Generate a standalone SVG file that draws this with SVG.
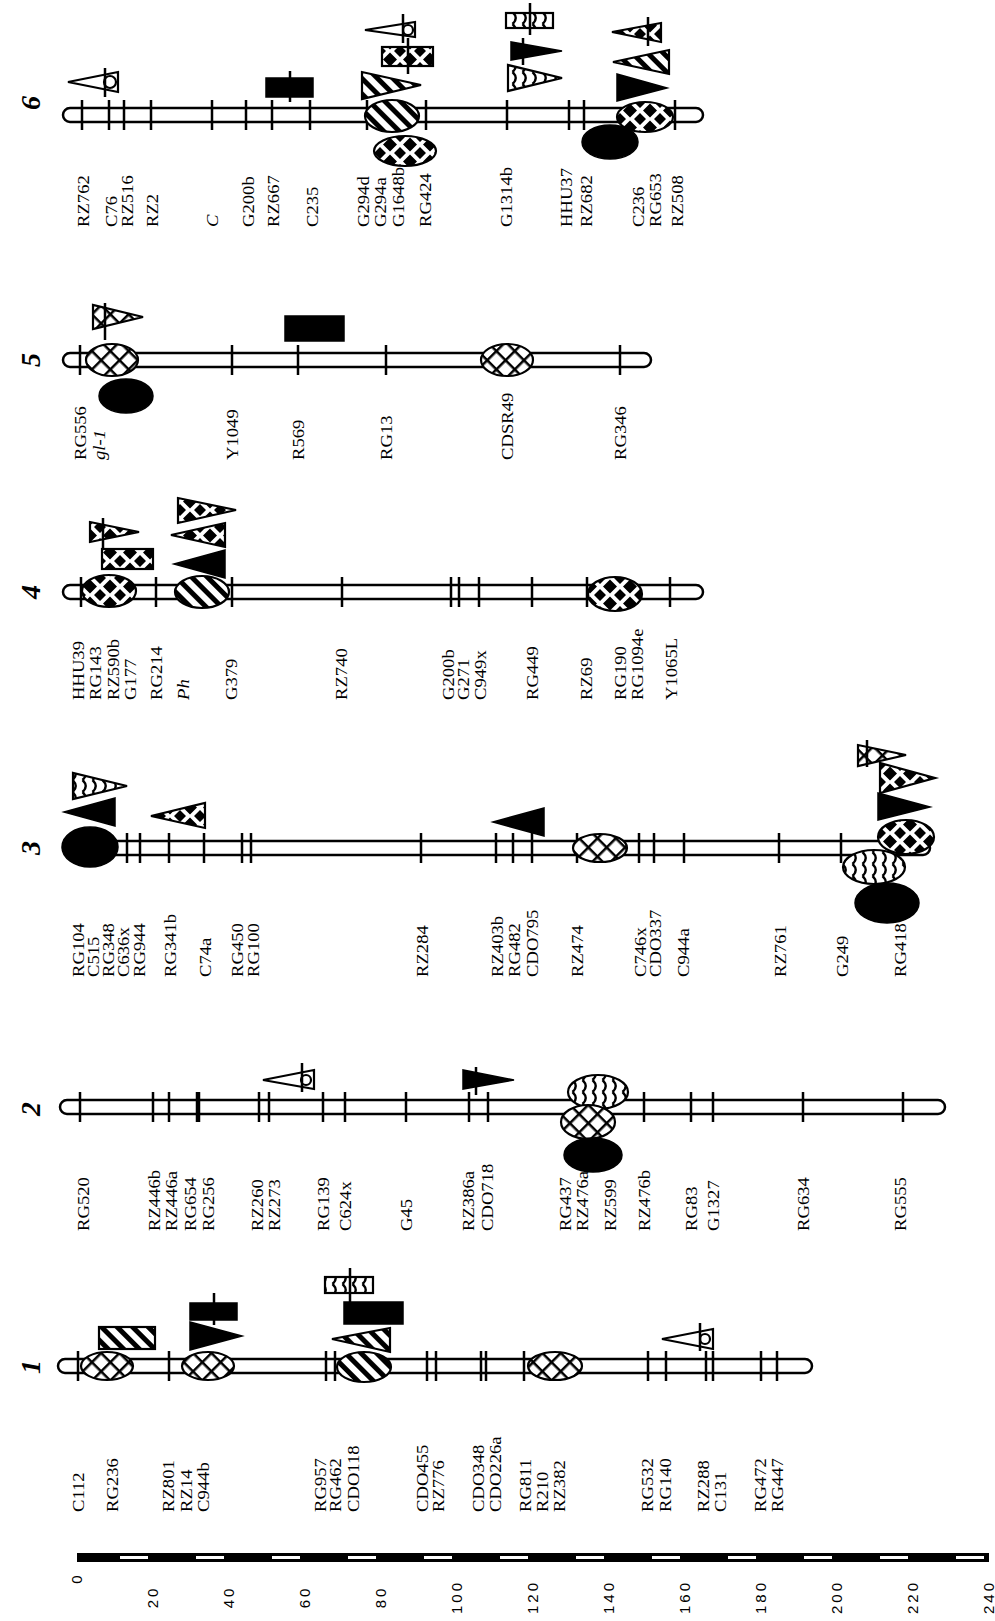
<svg xmlns="http://www.w3.org/2000/svg" width="995" height="1621" viewBox="0 0 995 1621">
<style>
.bar{fill:#fff;stroke:#000;stroke-width:2.5}
.tk{stroke:#000;stroke-width:2.5;fill:none}
.o{stroke:#000;stroke-width:2.2}
.w{fill:#fff;stroke:#000;stroke-width:2.2}
.b{fill:#000;stroke:#000;stroke-width:1.5}
.lb{font-family:"Liberation Serif","Times New Roman",serif;font-size:16.5px;fill:#000}
.it{font-style:italic}
.num{font-family:"Liberation Serif","Times New Roman",serif;font-size:28px;font-weight:bold;font-style:italic;text-anchor:middle}
.sc{font-family:"Liberation Sans",Arial,sans-serif;font-size:15px;letter-spacing:3px;text-anchor:middle}
</style>
<defs>
<pattern id="pX" patternUnits="userSpaceOnUse" width="13" height="13" patternTransform="rotate(45)"><rect width="13" height="13" fill="#fff"/><path d="M0,1.25H13M1.25,0V13" stroke="#000" stroke-width="2.5"/></pattern>
<pattern id="pS" patternUnits="userSpaceOnUse" width="11" height="11" patternTransform="rotate(-45)"><rect width="11" height="11" fill="#fff"/><rect width="5" height="11" fill="#000"/></pattern>
<pattern id="pD" patternUnits="userSpaceOnUse" width="20" height="17"><rect width="20" height="17" fill="#fff"/><path d="M10,1.5L17,8.5L10,15.5L3,8.5ZM0,-6L6,0L0,6L-6,0ZM20,-6L26,0L20,6L14,0ZM0,11L6,17L0,23L-6,17ZM20,11L26,17L20,23L14,17Z" fill="#000"/></pattern>
<pattern id="pW" patternUnits="userSpaceOnUse" width="10" height="12"><rect width="10" height="12" fill="#fff"/><path d="M2.5,0Q9,6 2.5,12" stroke="#000" stroke-width="2.4" fill="none"/></pattern>
</defs>
<rect width="995" height="1621" fill="#fff"/>

<g id="chr6">
<rect class="bar" x="63" y="108" width="640" height="14" rx="7"/>
<path class="tk" d="M82,100V130M109,100V130M124,100V130M151,100V130M212,100V130M246,100V130M272,100V130M310,100V130M367,100V130M426,100V130M507,100V130M569,100V130M584,100V130M675,100V130"/>
<ellipse class="o" cx="392" cy="116" rx="27" ry="16" fill="url(#pS)"/>
<ellipse class="o" cx="405" cy="151" rx="31" ry="15" fill="url(#pD)"/>
<ellipse class="b" cx="610" cy="142" rx="28" ry="17"/>
<ellipse class="o" cx="645" cy="117" rx="28" ry="15" fill="url(#pD)"/>
<polygon class="w" points="118,72 118,92 68,82"/><circle class="w" cx="110" cy="82" r="6"/><path class="tk" d="M105,68V97"/>
<rect class="b" x="266" y="78" width="47" height="19"/><path class="tk" d="M290,71V102"/>
<polygon class="o" points="362,72 362,99 421,85" fill="url(#pS)"/>
<rect class="o" x="382" y="47" width="51" height="19" fill="url(#pD)"/><path class="tk" d="M408,38V74"/>
<polygon class="w" points="415,22 415,37 365,30"/><circle class="w" cx="408" cy="30" r="5"/><path class="tk" d="M403,14V43"/>
<rect class="o" x="506" y="13" width="47" height="15" fill="url(#pW)"/><path class="tk" d="M530,3V35"/>
<polygon class="b" points="511,42 511,60 562,51"/><path class="tk" d="M523,38V65"/>
<polygon class="o" points="508,65 508,91 562,78" fill="url(#pW)"/>
<polygon class="o" points="661,23 661,42 612,32" fill="url(#pD)"/><path class="tk" d="M648,17V46"/>
<polygon class="o" points="669,50 669,74 613,62" fill="url(#pS)"/>
<polygon class="b" points="617,74 617,101 667,88"/>
<text class="num" transform="translate(40,103) rotate(-90)">6</text>
<g class="lb">
<text transform="translate(88.5,227) rotate(-90) scale(1.13,1)">RZ762</text>
<text transform="translate(116.5,227) rotate(-90) scale(1.13,1)">C76</text>
<text transform="translate(132.5,227) rotate(-90) scale(1.13,1)">RZ516</text>
<text transform="translate(157.5,227) rotate(-90) scale(1.13,1)">RZ2</text>
<text class="it" transform="translate(217.5,227) rotate(-90) scale(1.13,1)">C</text>
<text transform="translate(253.5,227) rotate(-90) scale(1.13,1)">G200b</text>
<text transform="translate(278.5,227) rotate(-90) scale(1.13,1)">RZ667</text>
<text transform="translate(317.5,227) rotate(-90) scale(1.13,1)">C235</text>
<text transform="translate(368.5,227) rotate(-90) scale(1.13,1)">G294d</text>
<text transform="translate(385.5,227) rotate(-90) scale(1.13,1)">G294a</text>
<text transform="translate(403.5,227) rotate(-90) scale(1.13,1)">G1648b</text>
<text transform="translate(430.5,227) rotate(-90) scale(1.13,1)">RG424</text>
<text transform="translate(511.5,227) rotate(-90) scale(1.13,1)">G1314b</text>
<text transform="translate(571.5,227) rotate(-90) scale(1.13,1)">HHU37</text>
<text transform="translate(591.5,227) rotate(-90) scale(1.13,1)">RZ682</text>
<text transform="translate(643.5,227) rotate(-90) scale(1.13,1)">C236</text>
<text transform="translate(660.5,227) rotate(-90) scale(1.13,1)">RG653</text>
<text transform="translate(682.5,227) rotate(-90) scale(1.13,1)">RZ508</text>
</g>
</g>

<g id="chr5">
<rect class="bar" x="63" y="353" width="588" height="14" rx="7"/>
<path class="tk" d="M80,345V375M232,345V375M298,345V375M386,345V375M620,345V375"/>
<ellipse class="o" cx="112" cy="360" rx="26" ry="16" fill="url(#pX)"/>
<ellipse class="o" cx="507" cy="360" rx="26" ry="16" fill="url(#pX)"/>
<ellipse class="b" cx="126" cy="396" rx="27" ry="17"/>
<polygon class="o" points="93,305 93,329 143,317" fill="url(#pX)"/><path class="tk" d="M105,303V340"/>
<rect class="b" x="285" y="316" width="59" height="25"/>
<text class="num" transform="translate(40,360) rotate(-90)">5</text>
<g class="lb">
<text transform="translate(85.5,460) rotate(-90) scale(1.13,1)">RG556</text>
<text class="it" transform="translate(104.5,460) rotate(-90) scale(1.13,1)">gl-1</text>
<text transform="translate(237.5,460) rotate(-90) scale(1.13,1)">Y1049</text>
<text transform="translate(303.5,460) rotate(-90) scale(1.13,1)">R569</text>
<text transform="translate(391.5,460) rotate(-90) scale(1.13,1)">RG13</text>
<text transform="translate(512.5,460) rotate(-90) scale(1.13,1)">CDSR49</text>
<text transform="translate(625.5,460) rotate(-90) scale(1.13,1)">RG346</text>
</g>
</g>

<g id="chr4">
<rect class="bar" x="63" y="585" width="640" height="14" rx="7"/>
<path class="tk" d="M81,577V607M156,577V607M232,577V607M342,577V607M451,577V607M459,577V607M479,577V607M532,577V607M587,577V607M670,577V607"/>
<ellipse class="o" cx="109" cy="591" rx="27" ry="16" fill="url(#pD)"/>
<ellipse class="o" cx="202" cy="592" rx="27" ry="16" fill="url(#pS)"/>
<ellipse class="o" cx="615" cy="594" rx="27" ry="17" fill="url(#pD)"/>
<polygon class="o" points="90,522 90,542 139,532" fill="url(#pD)"/><path class="tk" d="M103,518V569"/>
<rect class="o" x="102" y="549" width="51" height="20" fill="url(#pD)"/>
<polygon class="b" points="225,550 225,578 174,564"/>
<polygon class="o" points="225,523 225,547 171,535" fill="url(#pD)"/>
<polygon class="o" points="178,498 178,523 236,510" fill="url(#pD)"/>
<text class="num" transform="translate(40,592) rotate(-90)">4</text>
<g class="lb">
<text transform="translate(83.5,700) rotate(-90) scale(1.13,1)">HHU39</text>
<text transform="translate(100.5,700) rotate(-90) scale(1.13,1)">RG143</text>
<text transform="translate(118.5,700) rotate(-90) scale(1.13,1)">RZ590b</text>
<text transform="translate(135.5,700) rotate(-90) scale(1.13,1)">G177</text>
<text transform="translate(161.5,700) rotate(-90) scale(1.13,1)">RG214</text>
<text class="it" transform="translate(188.5,700) rotate(-90) scale(1.13,1)">Ph</text>
<text transform="translate(236.5,700) rotate(-90) scale(1.13,1)">G379</text>
<text transform="translate(346.5,700) rotate(-90) scale(1.13,1)">RZ740</text>
<text transform="translate(453.5,700) rotate(-90) scale(1.13,1)">G200b</text>
<text transform="translate(468.5,700) rotate(-90) scale(1.13,1)">G271</text>
<text transform="translate(485.5,700) rotate(-90) scale(1.13,1)">C949x</text>
<text transform="translate(537.5,700) rotate(-90) scale(1.13,1)">RG449</text>
<text transform="translate(591.5,700) rotate(-90) scale(1.13,1)">RZ69</text>
<text transform="translate(625.5,700) rotate(-90) scale(1.13,1)">RG190</text>
<text transform="translate(642.5,700) rotate(-90) scale(1.13,1)">RG1094e</text>
<text transform="translate(676.5,700) rotate(-90) scale(1.13,1)">Y1065L</text>
</g>
</g>

<g id="chr3">
<rect class="bar" x="63" y="841" width="867" height="14" rx="7"/>
<path class="tk" d="M127,833V863M140,833V863M169,833V863M204,833V863M242,833V863M251,833V863M421,833V863M496,833V863M513,833V863M532,833V863M577,833V863M639,833V863M654,833V863M684,833V863M779,833V863M841,833V863"/>
<ellipse class="b" cx="90" cy="847" rx="28" ry="20"/>
<ellipse class="o" cx="600" cy="848" rx="27" ry="14" fill="url(#pX)"/>
<ellipse class="b" cx="887" cy="903" rx="32" ry="20"/>
<ellipse class="o" cx="874" cy="867" rx="31" ry="17" fill="url(#pW)"/>
<ellipse class="o" cx="906" cy="837" rx="28" ry="17" fill="url(#pD)"/>
<polygon class="o" points="73,773 73,799 127,786" fill="url(#pW)"/>
<polygon class="b" points="115,798 115,826 64,812"/>
<polygon class="o" points="205,803 205,828 151,816" fill="url(#pD)"/>
<polygon class="b" points="544,808 544,836 493,822"/>
<polygon class="b" points="878,793 878,820 930,807"/>
<polygon class="o" points="880,763 880,793 935,778" fill="url(#pD)"/>
<polygon class="o" points="858,745 858,766 906,755" fill="url(#pX)"/><path class="tk" d="M867,740V767"/>
<text class="num" transform="translate(40,848) rotate(-90)">3</text>
<g class="lb">
<text transform="translate(83.5,977) rotate(-90) scale(1.13,1)">RG104</text>
<text transform="translate(98.5,977) rotate(-90) scale(1.13,1)">C515</text>
<text transform="translate(113.5,977) rotate(-90) scale(1.13,1)">RG348</text>
<text transform="translate(129,977) rotate(-90) scale(1.13,1)">C636x</text>
<text transform="translate(144.5,977) rotate(-90) scale(1.13,1)">RG944</text>
<text transform="translate(175.5,977) rotate(-90) scale(1.13,1)">RG341b</text>
<text transform="translate(210.5,977) rotate(-90) scale(1.13,1)">C74a</text>
<text transform="translate(242.5,977) rotate(-90) scale(1.13,1)">RG450</text>
<text transform="translate(258.5,977) rotate(-90) scale(1.13,1)">RG100</text>
<text transform="translate(427.5,977) rotate(-90) scale(1.13,1)">RZ284</text>
<text transform="translate(502.5,977) rotate(-90) scale(1.13,1)">RZ403b</text>
<text transform="translate(519.5,977) rotate(-90) scale(1.13,1)">RG482</text>
<text transform="translate(537.5,977) rotate(-90) scale(1.13,1)">CDO795</text>
<text transform="translate(582.5,977) rotate(-90) scale(1.13,1)">RZ474</text>
<text transform="translate(645.5,977) rotate(-90) scale(1.13,1)">C746x</text>
<text transform="translate(660.5,977) rotate(-90) scale(1.13,1)">CDO337</text>
<text transform="translate(688.5,977) rotate(-90) scale(1.13,1)">C944a</text>
<text transform="translate(785.5,977) rotate(-90) scale(1.13,1)">RZ761</text>
<text transform="translate(847.5,977) rotate(-90) scale(1.13,1)">G249</text>
<text transform="translate(905.5,977) rotate(-90) scale(1.13,1)">RG418</text>
</g>
</g>

<g id="chr2">
<rect class="bar" x="60" y="1100" width="885" height="14" rx="7"/>
<path class="tk" d="M80,1092V1122M153,1092V1122M169,1092V1122M259,1092V1122M269,1092V1122M323,1092V1122M345,1092V1122M406,1092V1122M469,1092V1122M488,1092V1122M644,1092V1122M691,1092V1122M713,1092V1122M803,1092V1122M903,1092V1122"/>
<path d="M198,1092V1122" stroke="#000" stroke-width="4.5"/>
<ellipse class="o" cx="598" cy="1092" rx="30" ry="17" fill="url(#pW)"/>
<ellipse class="o" cx="588" cy="1122" rx="27" ry="17" fill="url(#pX)"/>
<ellipse class="b" cx="593" cy="1155" rx="29" ry="17"/>
<polygon class="w" points="314,1070 314,1089 263,1080"/><circle class="w" cx="306" cy="1080" r="5"/><path class="tk" d="M302,1063V1092"/>
<polygon class="b" points="463,1070 463,1089 514,1080"/><path class="tk" d="M476,1067V1095"/>
<text class="num" transform="translate(40,1109) rotate(-90)">2</text>
<g class="lb">
<text transform="translate(88.5,1231) rotate(-90) scale(1.13,1)">RG520</text>
<text transform="translate(159.5,1231) rotate(-90) scale(1.13,1)">RZ446b</text>
<text transform="translate(176.5,1231) rotate(-90) scale(1.13,1)">RZ446a</text>
<text transform="translate(195.5,1231) rotate(-90) scale(1.13,1)">RG654</text>
<text transform="translate(213.5,1231) rotate(-90) scale(1.13,1)">RG256</text>
<text transform="translate(262.5,1231) rotate(-90) scale(1.13,1)">RZ260</text>
<text transform="translate(279.5,1231) rotate(-90) scale(1.13,1)">RZ273</text>
<text transform="translate(328.5,1231) rotate(-90) scale(1.13,1)">RG139</text>
<text transform="translate(350.5,1231) rotate(-90) scale(1.13,1)">C624x</text>
<text transform="translate(411.5,1231) rotate(-90) scale(1.13,1)">G45</text>
<text transform="translate(473.5,1231) rotate(-90) scale(1.13,1)">RZ386a</text>
<text transform="translate(492.5,1231) rotate(-90) scale(1.13,1)">CDO718</text>
<text transform="translate(570.5,1231) rotate(-90) scale(1.13,1)">RG437</text>
<text transform="translate(587.5,1231) rotate(-90) scale(1.13,1)">RZ476a</text>
<text transform="translate(615.5,1231) rotate(-90) scale(1.13,1)">RZ599</text>
<text transform="translate(649.5,1231) rotate(-90) scale(1.13,1)">RZ476b</text>
<text transform="translate(696.5,1231) rotate(-90) scale(1.13,1)">RG83</text>
<text transform="translate(718.5,1231) rotate(-90) scale(1.13,1)">G1327</text>
<text transform="translate(808.5,1231) rotate(-90) scale(1.13,1)">RG634</text>
<text transform="translate(905.5,1231) rotate(-90) scale(1.13,1)">RG555</text>
</g>
</g>

<g id="chr1">
<rect class="bar" x="58" y="1359" width="754" height="14" rx="7"/>
<path class="tk" d="M78,1351V1381M169,1351V1381M326,1351V1381M335,1351V1381M427,1351V1381M436,1351V1381M481,1351V1381M486,1351V1381M524,1351V1381M648,1351V1381M666,1351V1381M706,1351V1381M713,1351V1381M761,1351V1381M777,1351V1381"/>
<ellipse class="o" cx="107" cy="1366" rx="26" ry="14" fill="url(#pX)"/>
<ellipse class="o" cx="208" cy="1366" rx="26" ry="14" fill="url(#pX)"/>
<ellipse class="o" cx="364" cy="1367" rx="27" ry="15" fill="url(#pS)"/>
<ellipse class="o" cx="555" cy="1366" rx="27" ry="14" fill="url(#pX)"/>
<rect class="o" x="99" y="1327" width="56" height="22" fill="url(#pS)"/>
<rect class="b" x="190" y="1303" width="47" height="17"/><path class="tk" d="M214,1293V1325"/>
<polygon class="b" points="190,1322 190,1350 242,1336"/>
<rect class="o" x="325" y="1277" width="48" height="16" fill="url(#pW)"/><path class="tk" d="M350,1268V1302"/>
<rect class="b" x="344" y="1302" width="59" height="22"/>
<polygon class="o" points="390,1328 390,1352 332,1339" fill="url(#pS)"/>
<polygon class="w" points="713,1329 713,1349 662,1339"/><circle class="w" cx="705" cy="1339" r="5"/><path class="tk" d="M700,1323V1351"/>
<text class="num" transform="translate(40,1367) rotate(-90)">1</text>
<g class="lb">
<text transform="translate(83.5,1512) rotate(-90) scale(1.13,1)">C112</text>
<text transform="translate(117.5,1512) rotate(-90) scale(1.13,1)">RG236</text>
<text transform="translate(173.5,1512) rotate(-90) scale(1.13,1)">RZ801</text>
<text transform="translate(191.5,1512) rotate(-90) scale(1.13,1)">RZ14</text>
<text transform="translate(208.5,1512) rotate(-90) scale(1.13,1)">C944b</text>
<text transform="translate(325.5,1512) rotate(-90) scale(1.13,1)">RG957</text>
<text transform="translate(340.5,1512) rotate(-90) scale(1.13,1)">RG462</text>
<text transform="translate(358.5,1512) rotate(-90) scale(1.13,1)">CDO118</text>
<text transform="translate(427.5,1512) rotate(-90) scale(1.13,1)">CDO455</text>
<text transform="translate(443.5,1512) rotate(-90) scale(1.13,1)">RZ776</text>
<text transform="translate(483.5,1512) rotate(-90) scale(1.13,1)">CDO348</text>
<text transform="translate(500.5,1512) rotate(-90) scale(1.13,1)">CDO226a</text>
<text transform="translate(530.5,1512) rotate(-90) scale(1.13,1)">RG811</text>
<text transform="translate(547.5,1512) rotate(-90) scale(1.13,1)">R210</text>
<text transform="translate(564.5,1512) rotate(-90) scale(1.13,1)">RZ382</text>
<text transform="translate(652.5,1512) rotate(-90) scale(1.13,1)">RG532</text>
<text transform="translate(670.5,1512) rotate(-90) scale(1.13,1)">RG140</text>
<text transform="translate(708.5,1512) rotate(-90) scale(1.13,1)">RZ288</text>
<text transform="translate(725.5,1512) rotate(-90) scale(1.13,1)">C131</text>
<text transform="translate(765.5,1512) rotate(-90) scale(1.13,1)">RG472</text>
<text transform="translate(782.5,1512) rotate(-90) scale(1.13,1)">RG447</text>
</g>
</g>

<g id="scale">
<rect x="77" y="1553" width="912" height="9" fill="#000"/>
<g fill="#fff">
<rect x="120" y="1556" width="28" height="3"/><rect x="196" y="1556" width="28" height="3"/><rect x="272" y="1556" width="28" height="3"/><rect x="348" y="1556" width="28" height="3"/><rect x="424" y="1556" width="28" height="3"/><rect x="500" y="1556" width="28" height="3"/><rect x="576" y="1556" width="28" height="3"/><rect x="652" y="1556" width="28" height="3"/><rect x="728" y="1556" width="28" height="3"/><rect x="804" y="1556" width="28" height="3"/><rect x="880" y="1556" width="28" height="3"/><rect x="956" y="1556" width="28" height="3"/>
</g>
<g class="sc">
<text transform="translate(82,1578) rotate(-90)">0</text>
<text transform="translate(158,1597) rotate(-90)">20</text>
<text transform="translate(234,1597) rotate(-90)">40</text>
<text transform="translate(310,1597) rotate(-90)">60</text>
<text transform="translate(386,1597) rotate(-90)">80</text>
<text transform="translate(462,1597) rotate(-90)">100</text>
<text transform="translate(538,1597) rotate(-90)">120</text>
<text transform="translate(614,1597) rotate(-90)">140</text>
<text transform="translate(690,1597) rotate(-90)">160</text>
<text transform="translate(766,1597) rotate(-90)">180</text>
<text transform="translate(842,1597) rotate(-90)">200</text>
<text transform="translate(918,1597) rotate(-90)">220</text>
<text transform="translate(994,1597) rotate(-90)">240</text>
</g>
</g>
</svg>
